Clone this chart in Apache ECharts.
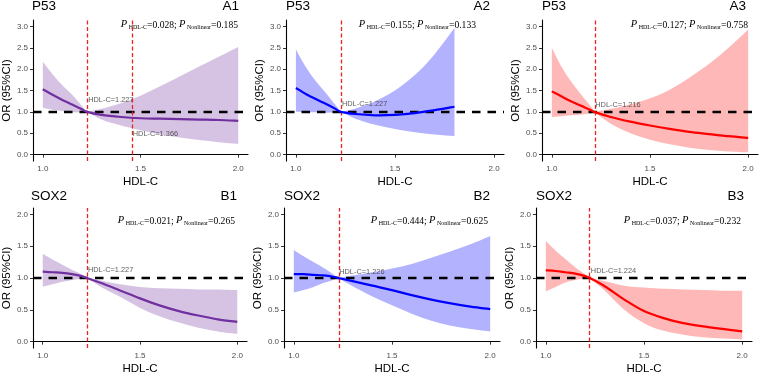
<!DOCTYPE html>
<html><head><meta charset="utf-8">
<script src="https://cdn.jsdelivr.net/npm/echarts@6/dist/echarts.min.js"></script>
<style>html,body{margin:0;padding:0;background:#fff}#c{width:759px;height:376px}</style>
</head><body><div id="c"></div>
<script>
// ---------------- data ----------------
const xTicks = [1.0, 1.5, 2.0];
const yTicksTop = [0, 0.5, 1.0, 1.5, 2.0, 2.5, 3.0];
const yTicksBottom = [0, 0.5, 1.0, 1.5, 2.0];

// A1  P53 (purple)
const a1X  = [1.0, 1.05, 1.1, 1.15, 1.2, 1.227, 1.3, 1.4, 1.5, 1.6, 1.7, 1.8, 1.9, 2.0];
const a1OR = [1.53, 1.40, 1.28, 1.17, 1.06, 1.0, 0.93, 0.88, 0.85, 0.84, 0.83, 0.82, 0.81, 0.79];
const a1Lo = [1.09, 1.05, 1.02, 0.99, 0.99, 1.0, 0.82, 0.68, 0.57, 0.47, 0.40, 0.34, 0.29, 0.25];
const a1Hi = [2.17, 1.88, 1.62, 1.40, 1.14, 1.0, 1.07, 1.20, 1.38, 1.60, 1.83, 2.06, 2.29, 2.52];
// A2  P53 (blue)
const a2X  = [1.0, 1.05, 1.1, 1.15, 1.2, 1.227, 1.3, 1.4, 1.5, 1.6, 1.7, 1.8];
const a2OR = [1.56, 1.42, 1.30, 1.19, 1.07, 1.0, 0.95, 0.92, 0.93, 0.97, 1.04, 1.12];
const a2Lo = [1.0, 0.99, 0.99, 0.98, 0.99, 1.0, 0.84, 0.70, 0.60, 0.52, 0.47, 0.43];
const a2Hi = [2.46, 2.05, 1.72, 1.45, 1.16, 1.0, 1.08, 1.25, 1.50, 1.86, 2.35, 2.96];
// A3  P53 (red)
const a3X  = [1.0, 1.05, 1.1, 1.15, 1.2, 1.216, 1.3, 1.4, 1.5, 1.6, 1.7, 1.8, 1.9, 2.0];
const a3OR = [1.48, 1.36, 1.24, 1.14, 1.04, 1.0, 0.88, 0.77, 0.68, 0.60, 0.53, 0.48, 0.43, 0.39];
const a3Lo = [0.88, 0.90, 0.92, 0.94, 0.97, 1.0, 0.72, 0.50, 0.35, 0.24, 0.16, 0.11, 0.075, 0.055];
const a3Hi = [2.50, 2.05, 1.70, 1.40, 1.12, 1.0, 1.07, 1.18, 1.32, 1.52, 1.80, 2.12, 2.50, 2.93];
// B1  SOX2 (purple)
const b1X  = [1.0, 1.05, 1.1, 1.15, 1.2, 1.227, 1.3, 1.4, 1.5, 1.6, 1.7, 1.8, 1.9, 2.0];
const b1OR = [1.10, 1.09, 1.08, 1.06, 1.03, 1.0, 0.92, 0.80, 0.68, 0.57, 0.48, 0.41, 0.35, 0.31];
const b1Lo = [0.86, 0.90, 0.94, 0.97, 0.99, 1.0, 0.86, 0.70, 0.53, 0.40, 0.30, 0.22, 0.16, 0.12];
const b1Hi = [1.38, 1.29, 1.21, 1.13, 1.06, 1.0, 0.96, 0.90, 0.86, 0.84, 0.83, 0.82, 0.82, 0.81];
// B2  SOX2 (blue)
const b2X  = [1.0, 1.05, 1.1, 1.15, 1.2, 1.226, 1.3, 1.4, 1.5, 1.6, 1.7, 1.8, 1.9, 2.0];
const b2OR = [1.06, 1.06, 1.05, 1.04, 1.02, 1.0, 0.95, 0.88, 0.81, 0.73, 0.66, 0.60, 0.55, 0.51];
const b2Lo = [0.77, 0.81, 0.86, 0.92, 0.97, 1.0, 0.87, 0.71, 0.57, 0.44, 0.33, 0.25, 0.20, 0.16];
const b2Hi = [1.44, 1.34, 1.25, 1.16, 1.06, 1.0, 1.04, 1.09, 1.15, 1.22, 1.32, 1.42, 1.53, 1.66];
// B3  SOX2 (red)
const b3X  = [1.0, 1.05, 1.1, 1.15, 1.2, 1.224, 1.3, 1.4, 1.5, 1.6, 1.7, 1.8, 1.9, 2.0];
const b3OR = [1.12, 1.11, 1.09, 1.07, 1.03, 1.0, 0.87, 0.66, 0.48, 0.37, 0.29, 0.24, 0.20, 0.16];
const b3Lo = [0.79, 0.86, 0.93, 0.97, 0.99, 1.0, 0.80, 0.50, 0.29, 0.17, 0.11, 0.07, 0.05, 0.035];
const b3Hi = [1.58, 1.43, 1.30, 1.17, 1.06, 1.0, 0.95, 0.88, 0.85, 0.83, 0.82, 0.81, 0.80, 0.80];

// reference (cut-off) lines and their labels
const a1Refs = [1.227, 1.455];
const a1RefLabels = [[1.227, 1.28, 'HDL-C=1.227'], [1.455, 0.48, 'HDL-C=1.366']];
const a2Refs = [1.227];
const a2RefLabels = [[1.227, 1.18, 'HDL-C=1.227']];
const a3Refs = [1.216];
const a3RefLabels = [[1.216, 1.15, 'HDL-C=1.216']];
const b1Refs = [1.227];
const b1RefLabels = [[1.227, 1.12, 'HDL-C=1.227']];
const b2Refs = [1.226];
const b2RefLabels = [[1.226, 1.10, 'HDL-C=1.226']];
const b3Refs = [1.224];
const b3RefLabels = [[1.224, 1.11, 'HDL-C=1.224']];

const genes = ['P53', 'P53', 'P53', 'SOX2', 'SOX2', 'SOX2'];
const tags = ['A1', 'A2', 'A3', 'B1', 'B2', 'B3'];
const pHdl = ['0.028', '0.155', '0.127', '0.021', '0.444', '0.037'];
const pNonlinear = ['0.185', '0.133', '0.758', '0.265', '0.625', '0.232'];

// ---------------- styles / layout ----------------
const PURPLE = {line: '#7030A0', fill: 'rgba(112,48,160,0.29)'};
const BLUE = {line: '#0000FF', fill: 'rgba(0,0,255,0.30)'};
const RED = {line: '#FF0000', fill: 'rgba(255,0,0,0.28)'};

const panels = [
  {x: a1X, or: a1OR, lo: a1Lo, hi: a1Hi, refs: a1Refs, labels: a1RefLabels, col: PURPLE, g: {left: 32, top: 20, width: 216, height: 141}, top: true, tagR: 239, pR: 238},
  {x: a2X, or: a2OR, lo: a2Lo, hi: a2Hi, refs: a2Refs, labels: a2RefLabels, col: BLUE, g: {left: 286, top: 20, width: 218, height: 141}, top: true, tagR: 490, pR: 476},
  {x: a3X, or: a3OR, lo: a3Lo, hi: a3Hi, refs: a3Refs, labels: a3RefLabels, col: RED, g: {left: 542, top: 20, width: 216, height: 141}, top: true, tagR: 746, pR: 748},
  {x: b1X, or: b1OR, lo: b1Lo, hi: b1Hi, refs: b1Refs, labels: b1RefLabels, col: PURPLE, g: {left: 31, top: 208, width: 216, height: 141}, top: false, tagR: 237, pR: 235},
  {x: b2X, or: b2OR, lo: b2Lo, hi: b2Hi, refs: b2Refs, labels: b2RefLabels, col: BLUE, g: {left: 284, top: 208, width: 216, height: 141}, top: false, tagR: 490, pR: 488},
  {x: b3X, or: b3OR, lo: b3Lo, hi: b3Hi, refs: b3Refs, labels: b3RefLabels, col: RED, g: {left: 536, top: 208, width: 216, height: 141}, top: false, tagR: 744, pR: 741}
];

const SANS = '"Liberation Sans", Arial, sans-serif';
const SERIF = '"Liberation Serif", "Times New Roman", serif';

// Catmull-Rom -> cubic bezier through pixel points (appends to path)
function curve(pts) {
  let d = '';
  for (let i = 0; i < pts.length - 1; i++) {
    const p0 = pts[i - 1] || pts[i], p1 = pts[i], p2 = pts[i + 1], p3 = pts[i + 2] || pts[i + 1];
    const t = 1 / 6;
    const c1 = [p1[0] + (p2[0] - p0[0]) * t, p1[1] + (p2[1] - p0[1]) * t];
    const c2 = [p2[0] - (p3[0] - p1[0]) * t, p2[1] - (p3[1] - p1[1]) * t];
    d += ' C' + c1[0] + ',' + c1[1] + ' ' + c2[0] + ',' + c2[1] + ' ' + p2[0] + ',' + p2[1];
  }
  return d;
}
function piecewise(pts, k) {
  // smooth separately on each side of the reference point (index k)
  return curve(pts.slice(0, k + 1)) + curve(pts.slice(k));
}

const grid = [], xAxis = [], yAxis = [], series = [], graphic = [];

panels.forEach((p, i) => {
  grid.push(Object.assign({containLabel: false}, p.g));
  xAxis.push({
    type: 'value', gridIndex: i, min: 0.95, max: 2.05,
    name: 'HDL-C', nameLocation: 'middle', nameGap: 15,
    nameTextStyle: {fontFamily: SANS, fontSize: 11.5, color: '#000'},
    axisLine: {show: true, lineStyle: {color: '#000', width: 1.1}},
    axisTick: {show: true, length: 3, customValues: xTicks, lineStyle: {color: '#333'}},
    axisLabel: {customValues: xTicks, formatter: v => v.toFixed(1), fontFamily: SANS, fontSize: 8, color: '#4d4d4d', margin: 4},
    splitLine: {show: false}
  });
  const yt = p.top ? yTicksTop : yTicksBottom;
  const ymax = p.top ? 3.15 : 2.1, ymin = p.top ? -0.15 : -0.1;
  yAxis.push({
    type: 'value', gridIndex: i, min: ymin, max: ymax,
    name: 'OR (95%CI)', nameLocation: 'middle', nameGap: 19, nameRotate: 90,
    nameTextStyle: {fontFamily: SANS, fontSize: 11.5, color: '#000'},
    axisLine: {show: true, lineStyle: {color: '#000', width: 1.1}},
    axisTick: {show: true, length: 3, customValues: yt, lineStyle: {color: '#333'}},
    axisLabel: {customValues: yt, formatter: v => v.toFixed(1), fontFamily: SANS, fontSize: 8, color: '#4d4d4d', margin: 5},
    splitLine: {show: false}
  });

  const k = p.x.indexOf(p.refs[0]);
  const rows = p.x.map((x, j) => [x, p.lo[j], p.hi[j], p.or[j]]);
  // confidence band
  series.push({
    type: 'custom', xAxisIndex: i, yAxisIndex: i, z: 1, silent: true,
    encode: {x: 0, y: [1, 2]},
    data: rows,
    renderItem: (params, api) => {
      if (params.dataIndex !== 0) return;
      const up = rows.map(r => api.coord([r[0], r[2]]));
      const dn = rows.map(r => api.coord([r[0], r[1]])).reverse();
      const kk = rows.length - 1 - k;
      let d = 'M' + up[0][0] + ',' + up[0][1] + piecewise(up, k);
      d += ' L' + dn[0][0] + ',' + dn[0][1] + piecewise(dn, kk) + ' Z';
      return {type: 'path', shape: {pathData: d}, style: {fill: p.col.fill}};
    }
  });
  // OR curve
  series.push({
    type: 'custom', xAxisIndex: i, yAxisIndex: i, z: 3, silent: true,
    encode: {x: 0, y: 3},
    data: rows,
    renderItem: (params, api) => {
      if (params.dataIndex !== 0) return;
      const pts = rows.map(r => api.coord([r[0], r[3]]));
      const d = 'M' + pts[0][0] + ',' + pts[0][1] + curve(pts);
      return {type: 'path', shape: {pathData: d}, style: {fill: 'none', stroke: p.col.line, lineWidth: 2.2}};
    }
  });
  // reference lines + labels
  series.push({
    type: 'scatter', xAxisIndex: i, yAxisIndex: i, z: 4, silent: true,
    symbolSize: 0,
    data: p.labels.map(l => ({value: [l[0], l[1]], name: l[2]})),
    label: {show: true, position: 'right', distance: 1, formatter: '{b}', fontFamily: SANS, fontSize: 7.4, color: '#333'},
    markLine: {
      silent: true, symbol: 'none', animation: false, label: {show: false}, z: 2,
      data: [{yAxis: 1, lineStyle: {color: '#000', type: [8.5, 7], width: 2.3}}]
        .concat(p.refs.map(r => ({xAxis: r, lineStyle: {color: '#E8251F', type: [4, 2.5], width: 1.3}})))
    }
  });

  const tY = p.top ? 6 : 196;
  graphic.push({type: 'text', x: p.g.left, y: tY, style: {text: genes[i], font: '13.5px ' + SANS, fill: '#000', align: 'left', verticalAlign: 'middle', textAlign: 'left', textVerticalAlign: 'middle'}});
  graphic.push({type: 'text', x: p.tagR, y: tY, style: {text: tags[i], font: '13.5px ' + SANS, fill: '#000', align: 'right', verticalAlign: 'middle', textAlign: 'right', textVerticalAlign: 'middle'}});
  graphic.push({type: 'text', x: p.pR, y: p.top ? 24 : 220, style: {
    text: '{p|P}{s| HDL-C}{m|=' + pHdl[i] + '; }{p|P}{s| Nonlinear}{m|=' + pNonlinear[i] + '}',
    align: 'right', verticalAlign: 'middle', textAlign: 'right', textVerticalAlign: 'middle',
    rich: {
      p: {fontFamily: SERIF, fontStyle: 'italic', fontSize: 10.5, color: '#111', verticalAlign: 'bottom', lineHeight: 12},
      s: {fontFamily: SERIF, fontSize: 6, color: '#111', verticalAlign: 'bottom', lineHeight: 11},
      m: {fontFamily: SERIF, fontSize: 9.6, color: '#111', verticalAlign: 'bottom', lineHeight: 12}
    }
  }});
});

const chart = echarts.init(document.getElementById('c'), null, {renderer: 'canvas'});
chart.setOption({animation: false, backgroundColor: '#fff', grid, xAxis, yAxis, series, graphic});
</script></body></html>
